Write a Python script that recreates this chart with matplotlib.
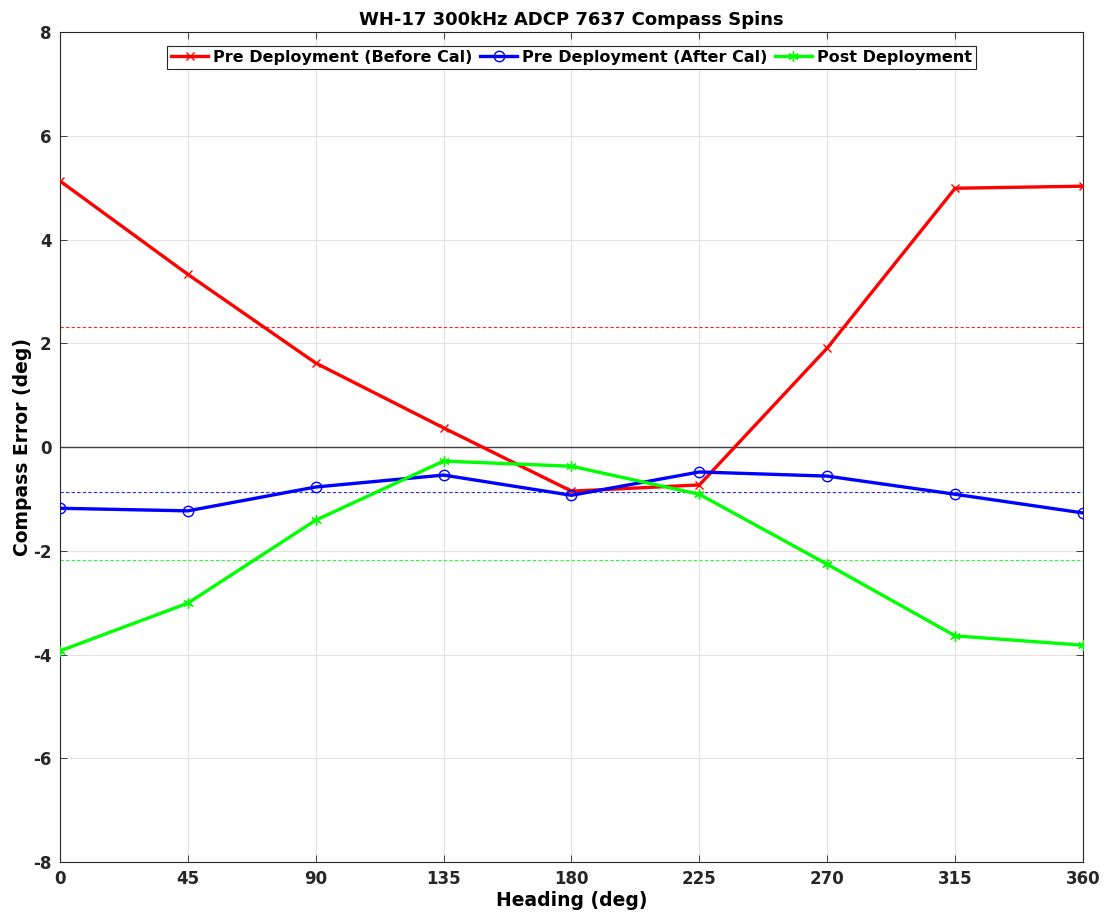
import matplotlib
matplotlib.use("Agg")
import matplotlib.pyplot as plt
import numpy as np

# compass spin results, error vs heading
heading = [0, 45, 90, 135, 180, 225, 270, 315, 360]
pre_before_cal = [5.13, 3.33, 1.62, 0.37, -0.85, -0.73, 1.91, 4.99, 5.03]
pre_after_cal = [-1.18, -1.23, -0.77, -0.54, -0.93, -0.48, -0.56, -0.91, -1.27]
post_deploy = [-3.93, -3.01, -1.41, -0.27, -0.37, -0.91, -2.26, -3.64, -3.82]

series = [
    ("Pre Deployment (Before Cal)", pre_before_cal, "#ff0000", "x", 6),
    ("Pre Deployment (After Cal)", pre_after_cal, "#0000ff", "o", 7.5),
    ("Post Deployment", post_deploy, "#00ff00", (6, 2, 0), 7.5),
]

plt.rcParams["font.family"] = "DejaVu Sans"
plt.rcParams["font.weight"] = "bold"
plt.rcParams["axes.unicode_minus"] = False

fig = plt.figure(figsize=(11.1, 9.18), dpi=100)
ax = fig.add_axes([0.054, 0.061, 0.9217, 0.904])

ax.axhline(0, color="#404040", linewidth=1.0, zorder=1)
for label, vals, color, marker, ms in series:
    ax.plot(heading, vals, color=color, linewidth=2.4, marker=marker,
            markersize=ms, markerfacecolor="none", markeredgecolor=color,
            markeredgewidth=1.0, label=label, zorder=3)
    # mean error for the spin
    ax.axhline(np.mean(vals), color=color, linestyle=(0, (3, 2)),
               linewidth=0.8, alpha=0.85, zorder=2)

ax.set_xlim(0, 360)
ax.set_ylim(-8, 8)
ax.set_xticks(heading)
ax.set_yticks(np.arange(-8, 9, 2))
ax.grid(True, color="#e3e3e3", linewidth=0.8)
ax.set_axisbelow(True)
ax.tick_params(direction="in", length=5, width=0.6, top=True, right=True,
               labelsize=12, colors="#262626", pad=6)
for sp in ax.spines.values():
    sp.set_color("#262626")
    sp.set_linewidth(0.8)

ax.set_title("WH-17 300kHz ADCP 7637 Compass Spins", fontsize=13,
             fontweight="bold", pad=5)
ax.set_xlabel("Heading (deg)", fontsize=13.5, fontweight="bold", labelpad=2)
ax.set_ylabel("Compass Error (deg)", fontsize=13.5, fontweight="bold", labelpad=1)

leg = ax.legend(loc="upper center", ncol=3, fontsize=11.5, frameon=True,
                fancybox=False, edgecolor="#262626", framealpha=1,
                borderpad=0.25, handlelength=2.3, handletextpad=0.3,
                columnspacing=0.5, borderaxespad=0.85)
leg.get_frame().set_linewidth(0.8)

fig.savefig("out.png", dpi=100, facecolor="white")
